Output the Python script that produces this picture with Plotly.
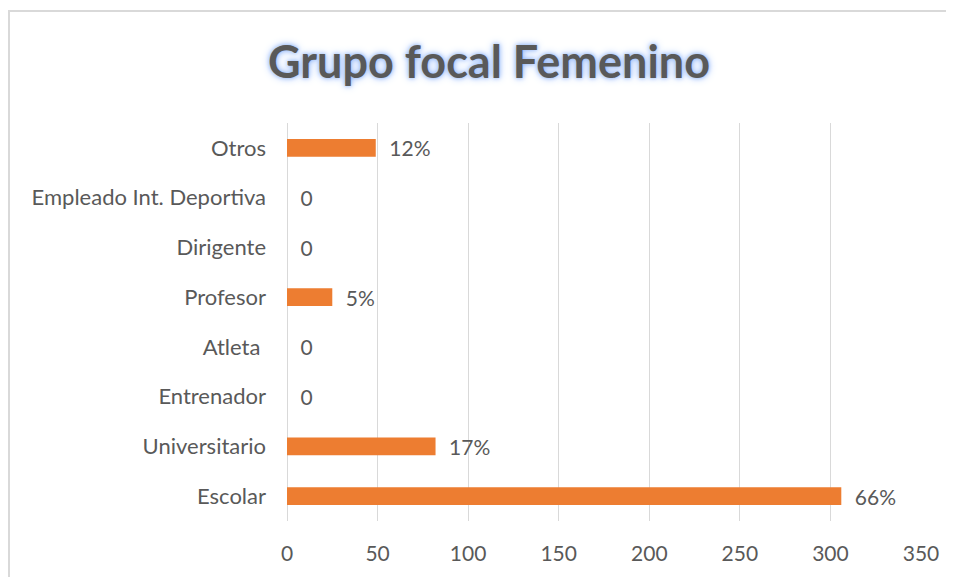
import plotly.graph_objects as go

categories = ["Escolar", "Universitario", "Entrenador", "Atleta\u00a0", "Profesor",
              "Dirigente", "Empleado Int. Deportiva", "Otros"]
values = [306, 82, 0, 0, 25, 0, 0, 49]
labels = ["66%", "17%", "0", "0", "5%", "0", "0", "12%"]
x_ticks = [0, 50, 100, 150, 200, 250, 300, 350]

OFF = 8  # page body margin
W, H = 954 - OFF, 577 - OFF
ML, MT = 287 - OFF, 123 - OFF
PW, PH = 634, 398
MR, MB = W - ML - PW, H - MT - PH

def px_x(px):
    return (px - OFF - ML) / PW

def px_y(py):
    return (H - MB - (py - OFF)) / PH

FONT = "Lato, sans-serif"

fig = go.Figure(go.Bar(
    y=categories, x=values, orientation="h",
    marker=dict(color="#ED7D31", line=dict(width=0)),
    text=["\u2002" + t for t in labels], textposition="outside",
    constraintext="none",
    textfont=dict(family=FONT, size=21, color="#595959"),
    cliponaxis=False,
))

fig.update_layout(
    width=W, height=H,
    margin=dict(l=ML, r=MR, t=MT, b=MB, autoexpand=False),
    paper_bgcolor="white", plot_bgcolor="white",
    bargap=0.64,
    showlegend=False,
    title=dict(
        text="<b>Grupo focal Femenino</b>",
        x=(489 - OFF) / W, xanchor="center", y=1 - (62 - OFF) / H, yanchor="middle",
        font=dict(family=FONT, size=45, color="#595959",
                  shadow="0px 0px 4px #8db3f7, 0px 0px 8px #a9c6fb"),
    ),
    xaxis=dict(
        range=[0, 350], tickvals=x_ticks, showgrid=True, gridcolor="#d9d9d9",
        gridwidth=1, zeroline=True, zerolinecolor="#d9d9d9", zerolinewidth=1,
        showline=False, ticks="", ticklabelstandoff=18,
        tickfont=dict(family=FONT, size=21, color="#595959"),
        fixedrange=True,
    ),
    yaxis=dict(
        categoryorder="array", categoryarray=categories, showgrid=False,
        showline=False, zeroline=False, ticks="", ticklabelstandoff=20,
        tickfont=dict(family=FONT, size=22, color="#595959"),
    ),
    shapes=[dict(type="rect", xref="paper", yref="paper",
                 x0=px_x(9), x1=px_x(1000), y0=px_y(620), y1=px_y(11),
                 line=dict(color="#d9d9d9", width=2), layer="below")],
)

fig.write_html("out.html")
